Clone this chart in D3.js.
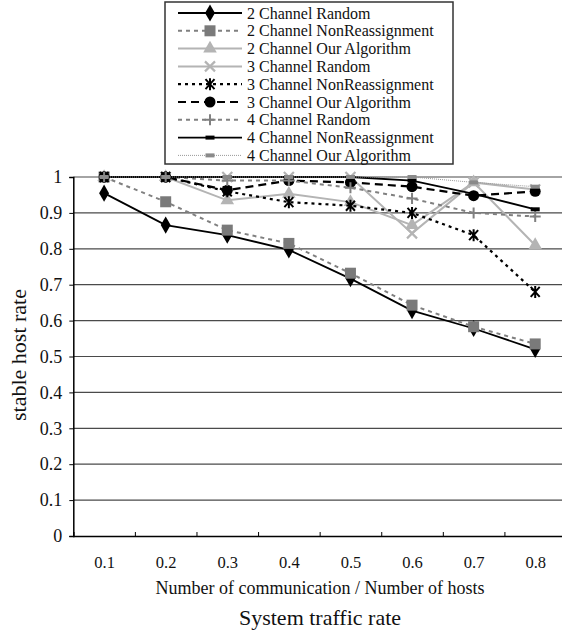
<!DOCTYPE html>
<html>
<head>
<meta charset="utf-8">
<script src="https://cdn.jsdelivr.net/npm/d3@7"></script>
<style>
  body { margin: 0; background: #fff; }
  text { font-family: 'Liberation Serif', 'DejaVu Serif', serif; fill: #111; }
</style>
</head>
<body>
<div id="chart"></div>
<script>
// x categories (communication / hosts)
var cats = [0.1, 0.2, 0.3, 0.4, 0.5, 0.6, 0.7, 0.8];
var catLabels = ["0.1", "0.2", "0.3", "0.4", "0.5", "0.6", "0.7", "0.8"];
var yTicks = [0, 0.1, 0.2, 0.3, 0.4, 0.5, 0.6, 0.7, 0.8, 0.9, 1];
var yTickLabels = ["0", "0.1", "0.2", "0.3", "0.4", "0.5", "0.6", "0.7", "0.8", "0.9", "1"];

// series values
var twoRandom        = [0.955, 0.866, 0.838, 0.797, 0.717, 0.628, 0.578, 0.52];
var twoNonReassign   = [1.0, 0.931, 0.852, 0.815, 0.732, 0.643, 0.583, 0.535];
var twoOurs          = [1.0, 1.0, 0.935, 0.953, 0.93, 0.866, 0.985, 0.81];
var threeRandom      = [1.0, 1.0, 1.0, 1.0, 1.0, 0.843, 0.985, 0.965];
var threeNonReassign = [1.0, 1.0, 0.96, 0.93, 0.92, 0.90, 0.838, 0.68];
var threeOurs        = [1.0, 1.0, 0.963, 0.99, 0.985, 0.973, 0.948, 0.96];
var fourRandom       = [1.0, 1.0, 0.99, 0.99, 0.97, 0.94, 0.90, 0.89];
var fourNonReassign  = [1.0, 1.0, 1.0, 1.0, 1.0, 0.99, 0.953, 0.91];
var fourOurs         = [1.0, 1.0, 1.0, 1.0, 1.0, 1.0, 0.985, 0.973];

var seriesNames = ["2 Channel Random", "2 Channel NonReassignment", "2 Channel Our Algorithm",
  "3 Channel Random", "3 Channel NonReassignment", "3 Channel Our Algorithm",
  "4 Channel Random", "4 Channel NonReassignment", "4 Channel Our Algorithm"];
var seriesValues = [twoRandom, twoNonReassign, twoOurs, threeRandom, threeNonReassign,
  threeOurs, fourRandom, fourNonReassign, fourOurs];

// line / marker styles per series
var styles = [
  { stroke: "#000", width: 1.8, dash: null, marker: "diamond", fill: "#000" },
  { stroke: "#808080", width: 2, dash: "4,4", marker: "square", fill: "#7a7a7a" },
  { stroke: "#b4b4b4", width: 2, dash: null, marker: "triangle", fill: "#b4b4b4" },
  { stroke: "#b4b4b4", width: 2, dash: null, marker: "x", fill: "#b4b4b4" },
  { stroke: "#000", width: 2.2, dash: "3,4", marker: "star", fill: "#000" },
  { stroke: "#000", width: 2.2, dash: "8,5", marker: "circle", fill: "#000" },
  { stroke: "#808080", width: 2, dash: "4,4", marker: "plus", fill: "#808080" },
  { stroke: "#000", width: 1.8, dash: null, marker: "bar", fill: "#000" },
  { stroke: "#999", width: 1, dash: "1,1", marker: "bar", fill: "#8a8a8a" }
];

var serif = "'Liberation Serif', 'DejaVu Serif', serif";
var width = 562, height = 638;

var svg = d3.select("#chart").append("svg")
  .attr("width", width)
  .attr("height", height);

var x = d3.scaleLinear().domain([0.05, 0.85]).range([73.3, 566]);
var y = d3.scaleLinear().domain([0, 1]).range([536, 177]);

// gridlines
svg.append("g").selectAll("line")
  .data(yTicks.slice(1))
  .enter().append("line")
  .attr("x1", x(0.05)).attr("x2", x(0.85))
  .attr("y1", function (d) { return y(d); })
  .attr("y2", function (d) { return y(d); })
  .attr("stroke", "#4a4a4a")
  .attr("stroke-width", 1.2);

// y axis
var yAxis = d3.axisLeft(y).tickValues(yTicks).tickSize(4)
  .tickFormat(function (d, i) { return yTickLabels[i]; });
var gy = svg.append("g").attr("transform", "translate(" + x(0.05) + ",0)").call(yAxis)
  .attr("font-family", serif).attr("font-size", 18);
gy.select(".domain").attr("stroke", "#000").attr("stroke-width", 1.5);
gy.selectAll(".tick line").attr("stroke", "#000");
gy.selectAll(".tick text").attr("x", -11).attr("fill", "#111");

// x axis: ticks between categories, labels at centres
var edges = d3.range(0.15, 0.85, 0.1);
var xTicks = d3.axisBottom(x).tickValues(edges).tickSize(-4).tickFormat("");
var gx = svg.append("g").attr("transform", "translate(0," + y(0) + ")").call(xTicks);
gx.select(".domain").attr("stroke", "#000").attr("stroke-width", 1.5);
gx.selectAll(".tick line").attr("stroke", "#000");

var xLabels = d3.axisBottom(x).tickValues(cats).tickSize(0)
  .tickFormat(function (d, i) { return catLabels[i]; });
var gl = svg.append("g").attr("transform", "translate(0," + y(0) + ")").call(xLabels)
  .attr("font-family", serif).attr("font-size", 16.5);
gl.select(".domain").remove();
gl.selectAll(".tick text").attr("y", 20).attr("fill", "#111");

svg.append("text")
  .attr("x", 320).attr("y", 594)
  .attr("text-anchor", "middle")
  .style("font-size", "18px")
  .text("Number of communication / Number of hosts");

svg.append("text")
  .attr("x", 320).attr("y", 625)
  .attr("text-anchor", "middle")
  .style("font-size", "22px")
  .text("System traffic rate");

svg.append("text")
  .attr("transform", "translate(26,355) rotate(-90)")
  .attr("text-anchor", "middle")
  .style("font-size", "22px")
  .text("stable host rate");

// marker drawing
function drawMarker(g, type, cx, cy, fill) {
  if (type == "diamond") {
    g.append("path").attr("d", d3.symbol(d3.symbolDiamond, 85)())
      .attr("transform", "translate(" + cx + "," + cy + ")").attr("fill", fill);
  } else if (type == "square") {
    g.append("rect").attr("x", cx - 5.5).attr("y", cy - 5.5).attr("width", 11).attr("height", 11)
      .attr("fill", fill);
  } else if (type == "triangle") {
    g.append("path").attr("d", d3.symbol(d3.symbolTriangle, 80)())
      .attr("transform", "translate(" + cx + "," + cy + ")").attr("fill", fill);
  } else if (type == "x") {
    g.append("path").attr("d", "M-5,-5L5,5M-5,5L5,-5")
      .attr("transform", "translate(" + cx + "," + cy + ")")
      .attr("stroke", fill).attr("stroke-width", 2.2).attr("fill", "none");
  } else if (type == "star") {
    g.append("path").attr("d", "M-4.5,-5L4.5,5M-4.5,5L4.5,-5M0,-6L0,6")
      .attr("transform", "translate(" + cx + "," + cy + ")")
      .attr("stroke", fill).attr("stroke-width", 2).attr("fill", "none");
  } else if (type == "circle") {
    g.append("circle").attr("cx", cx).attr("cy", cy).attr("r", 5.5).attr("fill", fill);
  } else if (type == "plus") {
    g.append("path").attr("d", "M-5.5,0L5.5,0M0,-5.5L0,5.5")
      .attr("transform", "translate(" + cx + "," + cy + ")")
      .attr("stroke", fill).attr("stroke-width", 2).attr("fill", "none");
  } else if (type == "bar") {
    g.append("rect").attr("x", cx - 4.5).attr("y", cy - 2).attr("width", 9).attr("height", 4)
      .attr("fill", fill);
  }
}

var line = d3.line()
  .x(function (d, i) { return x(cats[i]); })
  .y(function (d) { return y(d); });

seriesValues.forEach(function (vals, k) {
  var st = styles[k];
  var g = svg.append("g").attr("class", "series");
  g.append("path")
    .attr("d", line(vals))
    .attr("fill", "none")
    .attr("stroke", st.stroke)
    .attr("stroke-width", st.width)
    .attr("stroke-dasharray", st.dash);
  vals.forEach(function (v, i) {
    drawMarker(g, st.marker, x(cats[i]), y(v), st.fill);
  });
});

// legend
var legend = svg.append("g");
legend.append("rect")
  .attr("x", 165).attr("y", 2).attr("width", 288).attr("height", 162)
  .attr("fill", "#fff").attr("stroke", "#333").attr("stroke-width", 1.5);

seriesNames.forEach(function (name, k) {
  var st = styles[k];
  var ry = 13 + k * 17.8;
  legend.append("line")
    .attr("x1", 178).attr("x2", 242).attr("y1", ry).attr("y2", ry)
    .attr("stroke", st.stroke).attr("stroke-width", st.width)
    .attr("stroke-dasharray", st.dash);
  drawMarker(legend, st.marker, 210, ry, st.fill);
  legend.append("text")
    .attr("x", 247).attr("y", ry)
    .attr("dy", "0.35em")
    .style("font-size", "16px")
    .text(name);
});
</script>
</body>
</html>
